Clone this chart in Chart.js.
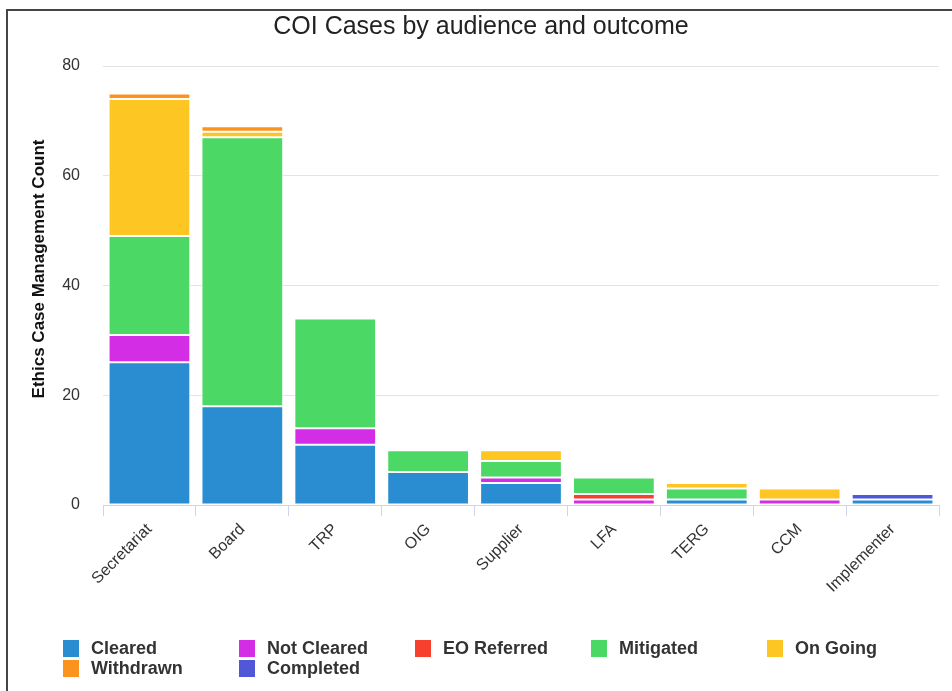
<!DOCTYPE html>
<html>
<head>
<meta charset="utf-8">
<script src="https://cdn.jsdelivr.net/npm/chart.js@4"></script>
<style>
  html, body { margin: 0; padding: 0; background: #fff; }
  #wrap { position: relative; width: 952px; height: 691px; overflow: hidden; font-family: "Liberation Sans", Arial, sans-serif; }
  #frame { position: absolute; left: 6px; top: 9px; right: -4px; bottom: -4px; border-left: 2px solid #454545; border-top: 2px solid #454545; }
  #coiChart { position: absolute; left: 23px; top: 0; }
  #legend { position: absolute; left: 62px; top: 638px; display: grid; grid-template-columns: repeat(5, 176px); grid-auto-rows: 20.5px; }
  .item { display: flex; align-items: center; font-weight: bold; font-size: 18px; color: #333; }
  .box { width: 18px; height: 19px; margin-right: 11px; box-sizing: border-box; border: 1px solid #fff; }
</style>
</head>
<body>
<div id="wrap">
  <canvas id="coiChart" width="929" height="691"></canvas>
  <div id="frame"></div>
  <div id="legend"></div>
</div>
<script>
const audiences = ["Secretariat", "Board", "TRP", "OIG", "Supplier", "LFA", "TERG", "CCM", "Implementer"];

const cleared    = [26, 18, 11, 6, 4, 0, 1, 0, 1];
const notCleared = [5, 0, 3, 0, 1, 1, 0, 1, 0];
const eoReferred = [0, 0, 0, 0, 0, 1, 0, 0, 0];
const mitigated  = [18, 49, 20, 4, 3, 3, 2, 0, 0];
const onGoing    = [25, 1, 0, 0, 2, 0, 1, 2, 0];
const withdrawn  = [1, 1, 0, 0, 0, 0, 0, 0, 0];
const completed  = [0, 0, 0, 0, 0, 0, 0, 0, 1];

const yTicks = [0, 20, 40, 60, 80];

function series(label, data, color) {
  return {
    label: label,
    data: data,
    backgroundColor: color,
    borderColor: "#ffffff",
    borderWidth: 1,
    borderSkipped: false,
    barPercentage: 0.88,
    categoryPercentage: 1
  };
}

const chart = new Chart("coiChart", {
  type: "bar",
  data: {
    labels: audiences,
    datasets: [
      series("Cleared", cleared, "#2a8dd2"),
      series("Not Cleared", notCleared, "#d42de6"),
      series("EO Referred", eoReferred, "#f7412e"),
      series("Mitigated", mitigated, "#4cd864"),
      series("On Going", onGoing, "#fec623"),
      series("Withdrawn", withdrawn, "#fd931f"),
      series("Completed", completed, "#5158d8")
    ]
  },
  options: {
    responsive: false,
    animation: false,
    layout: { padding: { left: 0, right: 13, top: 0, bottom: 86 } },
    scales: {
      x: {
        stacked: true,
        grid: {
          display: true,
          drawOnChartArea: false,
          drawTicks: true,
          tickLength: 11,
          color: "#ccd6eb"
        },
        border: { color: "#ccd6eb", width: 1 },
        ticks: {
          color: "#333",
          font: { family: "Liberation Sans", size: 16 },
          minRotation: 45,
          maxRotation: 45,
          padding: 4
        },
        afterFit: (scale) => { scale.height = 100; }
      },
      y: {
        stacked: true,
        min: 0,
        max: 80,
        afterBuildTicks: (scale) => { scale.ticks = yTicks.map(v => ({ value: v })); },
        grid: { color: "#e3e3e3", drawTicks: false },
        border: { display: false },
        ticks: {
          color: "#333",
          font: { family: "Liberation Sans", size: 16 },
          padding: 23
        },
        title: {
          display: true,
          // leading spaces lift the rotated title a little above the axis middle
          text: "       Ethics Case Management Count",
          color: "#111",
          font: { family: "Liberation Sans", size: 17, weight: "bold" },
          padding: { top: 6, bottom: 0 }
        },
        afterFit: (scale) => { scale.width = 80; }
      }
    },
    plugins: {
      legend: { display: false },
      tooltip: { enabled: false },
      title: {
        display: true,
        text: "COI Cases by audience and outcome",
        color: "#222",
        font: { family: "Liberation Sans", size: 25, weight: "normal" },
        padding: { top: 12, bottom: 24 }
      }
    }
  }
});

// legend laid out as a fixed five-column grid
const legendEl = document.getElementById("legend");
chart.data.datasets.forEach(ds => {
  const item = document.createElement("div");
  item.className = "item";
  const box = document.createElement("span");
  box.className = "box";
  box.style.background = ds.backgroundColor;
  const txt = document.createElement("span");
  txt.textContent = ds.label;
  item.appendChild(box);
  item.appendChild(txt);
  legendEl.appendChild(item);
});
</script>
</body>
</html>
